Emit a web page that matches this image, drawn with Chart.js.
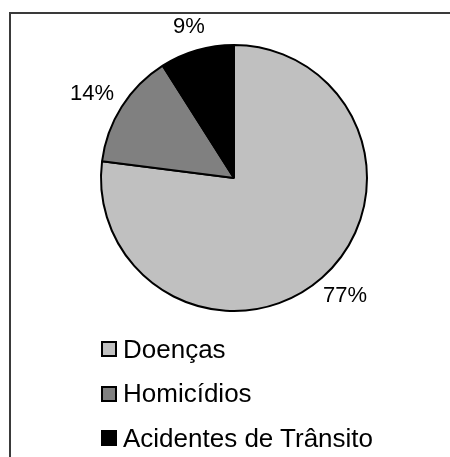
<!DOCTYPE html>
<html>
<head>
<meta charset="utf-8">
<script src="https://cdn.jsdelivr.net/npm/chart.js@4.4.1/dist/chart.umd.min.js"></script>
<style>
    body { margin: 0; background: #fff; }
    #wrap { position: relative; width: 450px; height: 457px; overflow: hidden; font-family: "Liberation Sans", Arial, sans-serif; }
    #frame { position: absolute; left: 9px; top: 12px; width: 460px; height: 460px; border-top: 2px solid #3a3a3a; border-left: 2px solid #3a3a3a; }
    #pie { position: absolute; left: 0; top: 0; }
    #legend { position: absolute; left: 101px; top: 327px; }
    .item { height: 44.5px; display: flex; align-items: center; font-size: 26px; color: #000; }
    .box { width: 12px; height: 12px; border: 2px solid #000; margin-right: 6px; }
</style>
</head>
<body>
<div id="wrap">
    <div id="frame"></div>
    <canvas id="pie" width="450" height="457"></canvas>
    <div id="legend"></div>
</div>
<script>
const categories = ['Doenças', 'Homicídios', 'Acidentes de Trânsito'];
const values = [77, 14, 9];
const labels = ['77%', '14%', '9%'];
const colors = ['#c0c0c0', '#808080', '#000000'];

// percentage labels outside each slice
const outsideLabels = {
    id: 'outsideLabels',
    afterDatasetsDraw(chart) {
        const ctx = chart.ctx;
        const meta = chart.getDatasetMeta(0);
        ctx.save();
        ctx.font = '22px "Liberation Sans", Arial, sans-serif';
        ctx.fillStyle = '#000';
        ctx.textAlign = 'center';
        ctx.textBaseline = 'middle';
        meta.data.forEach((arc, i) => {
            const { x, y, startAngle, endAngle, outerRadius } = arc.getProps(['x', 'y', 'startAngle', 'endAngle', 'outerRadius'], true);
            const mid = (startAngle + endAngle) / 2;
            const dx = Math.cos(mid), dy = Math.sin(mid);
            const d = outerRadius + 13;
            const w = ctx.measureText(labels[i]).width;
            const h = 22;
            ctx.fillText(labels[i], x + dx * d + dx * w / 2, y + dy * d + dy * h / 2);
        });
        ctx.restore();
    }
};

new Chart(document.getElementById('pie'), {
    type: 'pie',
    data: {
        labels: categories,
        datasets: [{
            data: values,
            backgroundColor: colors,
            borderColor: '#000',
            borderWidth: 2
        }]
    },
    options: {
        responsive: false,
        animation: false,
        layout: { padding: { left: 100, right: 82, top: 44, bottom: 145 } },
        plugins: {
            legend: { display: false },
            tooltip: { enabled: false }
        }
    },
    plugins: [outsideLabels]
});

// Legend
const legend = document.getElementById('legend');
categories.forEach((name, i) => {
    const row = document.createElement('div');
    row.className = 'item';
    row.innerHTML = `<span class="box" style="background:${colors[i]}"></span><span>${name}</span>`;
    legend.appendChild(row);
});
</script>
</body>
</html>
